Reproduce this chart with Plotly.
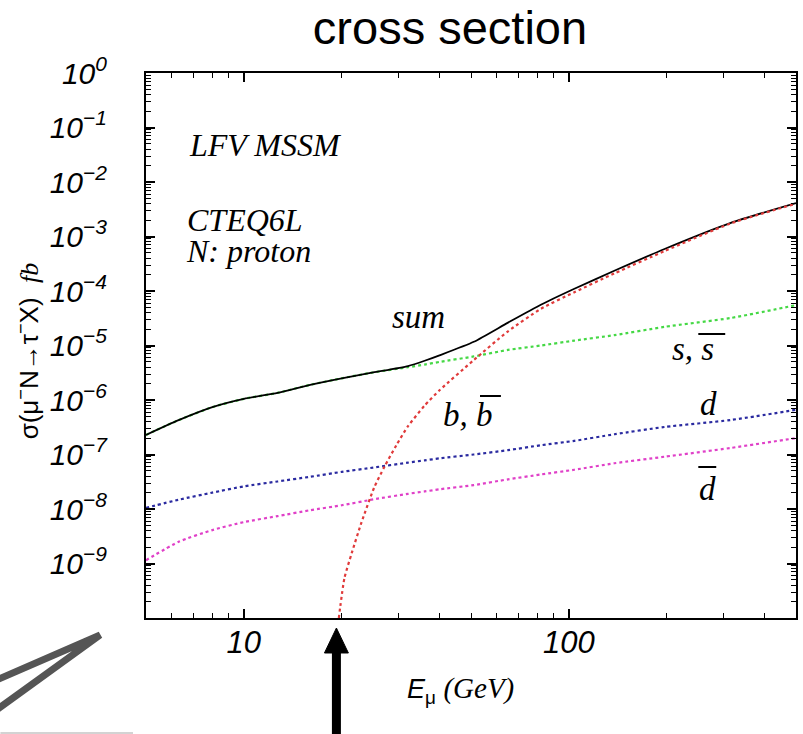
import numpy as np
import plotly.graph_objects as go

# Muon beam energy E_mu (GeV) at which the curves are sampled
energy = [5, 6.3, 8, 10, 12.7, 16, 20, 25, 32, 36, 40, 51, 65, 82, 104, 138, 197, 315, 500]

# sigma(mu- N -> tau- X) in fb, per parton channel
sigma_sum = [2.29e-7, 4.27e-7, 7.4e-7, 1.05e-6, 1.35e-6, 1.9e-6, 2.5e-6, 3.2e-6, 4.2e-6, 5.25e-6,
             6.6e-6, 1.17e-5, 2.63e-5, 5.6e-5, 1.1e-4, 2.35e-4, 5.9e-4, 1.78e-3, 4.1e-3]
sigma_s = [2.29e-7, 4.27e-7, 7.4e-7, 1.05e-6, 1.35e-6, 1.9e-6, 2.5e-6, 3.2e-6, 4.0e-6, 4.47e-6,
           5.0e-6, 6.3e-6, 8.3e-6, 1.0e-5, 1.23e-5, 1.55e-5, 2.2e-5, 3.2e-5, 5.5e-5]
sigma_d = [1.05e-8, 1.48e-8, 2.0e-8, 2.6e-8, 3.2e-8, 3.9e-8, 4.8e-8, 5.75e-8, 7.1e-8, 7.8e-8,
           8.5e-8, 1.0e-7, 1.2e-7, 1.48e-7, 1.78e-7, 2.35e-7, 3.2e-7, 4.3e-7, 6.6e-7]
sigma_dbar = [1.15e-9, 2.5e-9, 4.1e-9, 5.75e-9, 7.4e-9, 9.5e-9, 1.17e-8, 1.5e-8, 1.9e-8, 2.1e-8,
              2.3e-8, 2.75e-8, 3.5e-8, 4.3e-8, 5.25e-8, 6.9e-8, 9.1e-8, 1.32e-7, 2.0e-7]

# b-quark channel opens near 20 GeV
energy_b = [19.6, 20.4, 21.5, 23, 25.2, 27.1, 29.5, 32, 36, 40, 51, 65, 82, 104, 138, 197, 315, 500]
sigma_b = [1.0e-10, 5.4e-10, 1.58e-9, 5.6e-9, 2.5e-8, 6.0e-8, 1.5e-7, 3.3e-7, 7.9e-7, 1.51e-6,
           5.4e-6, 1.82e-5, 4.7e-5, 9.5e-5, 2.1e-4, 5.4e-4, 1.74e-3, 4.0e-3]

x_major = [10, 100]
x_labels = ["10", "100"]
y_exponents = list(range(0, -10, -1))

W, H = 803, 734
L, R, T, B = 146, 5, 73, 116


def px(x):
    return (x - L) / (W - L - R)


def py(y):
    return (H - B - y) / (H - T - B)


fig = go.Figure()

dotted = dict(dash="dot", width=2.2, shape="spline", smoothing=0.6)
fig.add_trace(go.Scatter(x=energy, y=sigma_s, mode="lines",
                         line=dict(color="#45d845", **dotted)))
fig.add_trace(go.Scatter(x=energy, y=sigma_d, mode="lines",
                         line=dict(color="#2a2aa0", **dotted)))
fig.add_trace(go.Scatter(x=energy, y=sigma_dbar, mode="lines",
                         line=dict(color="#e040c8", **dotted)))
fig.add_trace(go.Scatter(x=energy, y=sigma_sum, mode="lines",
                         line=dict(color="black", width=1.8, shape="spline", smoothing=0.6)))
fig.add_trace(go.Scatter(x=energy_b, y=sigma_b, mode="lines",
                         line=dict(color="#e03a3a", **dotted)))

x_minor = [v * 10 ** k for k in range(0, 3) for v in range(2, 10)
           if 5 <= v * 10 ** k <= 500 and v * 10 ** k not in x_major]
y_minor = [v * 10.0 ** k for k in range(-10, 0) for v in range(2, 10)]

axis_common = dict(showline=True, linecolor="black", linewidth=2, mirror="ticks",
                   ticks="inside", tickcolor="black", tickwidth=1.5, ticklen=9,
                   showgrid=False, zeroline=False)

fig.update_xaxes(type="log", range=[np.log10(5), np.log10(500)],
                 tickmode="array", tickvals=x_major, ticktext=x_labels,
                 tickfont=dict(family="Liberation Sans", size=31, color="black", style="italic"),
                 ticklabelstandoff=-4,
                 minor=dict(tickmode="array", tickvals=x_minor, ticks="inside",
                            ticklen=5, tickwidth=1.3, tickcolor="black"),
                 **axis_common)
fig.update_yaxes(type="log", range=[-10, 0],
                 tickmode="array", tickvals=[10.0 ** e for e in y_exponents],
                 ticktext=["10<sup>%s</sup>" % (str(e).replace("-", "\u2212")) for e in y_exponents],
                 tickfont=dict(family="Liberation Sans", size=30, color="black", style="italic"),
                 ticklabelstandoff=31,
                 minor=dict(tickmode="array", tickvals=y_minor, ticks="inside",
                            ticklen=5, tickwidth=1.2, tickcolor="black"),
                 **axis_common)

serif_top = dict(family="Liberation Serif", size=32, color="black", style="italic")
serif_lbl = dict(family="Liberation Serif", size=33, color="black", style="italic")
notes = [
    ("LFV MSSM", 187, 145, serif_top),
    ("sum", 391, 317, serif_lbl),
    ("s, s", 672, 349, serif_lbl),
    ("b, b", 442, 415, serif_lbl),
    ("d", 700, 404, serif_lbl),
    ("d", 699, 489, serif_lbl),
]
annotations = []
for text, x0, yc, fnt in notes:
    annotations.append(dict(text=text, xref="paper", yref="paper", x=px(x0), y=py(yc),
                            xanchor="left", yanchor="middle", showarrow=False, font=fnt))

# PDF set and target, two tightly spaced lines
annotations.append(dict(
    text="<span style='font-size:32px'>CTEQ6L</span><br>"
         "<span style='font-size:32px'>N: proton</span>",
    xref="paper", yref="paper", x=px(184), y=py(236), align="left",
    xanchor="left", yanchor="middle", showarrow=False,
    font=dict(family="Liberation Serif", size=24, color="black", style="italic")))

annotations.append(dict(
    text="\u03c3(\u03bc<sup>\u2212</sup>N\u2192\u03c4<sup>\u2212</sup>X)  "
         "<span style='font-family:Liberation Serif'><i>fb</i></span>",
    xref="paper", yref="paper", x=px(28), y=py(351), textangle=-90,
    xanchor="center", yanchor="middle", showarrow=False,
    font=dict(family="Liberation Sans", size=26, color="black")))
annotations.append(dict(
    text="<i>E</i><sub>\u03bc</sub> <span style='font-family:Liberation Serif;font-size:29px'>"
         "<i>(GeV)</i></span>",
    xref="paper", yref="paper", x=px(461), y=py(690),
    xanchor="center", yanchor="middle", showarrow=False,
    font=dict(family="Liberation Sans", size=27, color="black")))

shapes = []
# overbars for the antiquark labels
for x0, x1, yb in [(700, 727, 334), (481, 502, 396), (700, 718, 467)]:
    shapes.append(dict(type="line", xref="paper", yref="paper",
                       x0=px(x0), x1=px(x1), y0=py(yb), y1=py(yb),
                       line=dict(color="black", width=2)))
# threshold arrow under the axis
shapes.append(dict(type="line", xref="paper", yref="paper",
                   x0=px(337), x1=px(337), y0=py(650), y1=py(736),
                   line=dict(color="black", width=9)))
shapes.append(dict(type="path", xref="paper", yref="paper",
                   path="M %f,%f L %f,%f L %f,%f Z" % (px(325), py(653), px(349), py(653),
                                                       px(337), py(628)),
                   fillcolor="black", line=dict(color="black", width=1)))
# grey pointer at lower left
shapes.append(dict(type="path", xref="paper", yref="paper",
                   path="M %f,%f L %f,%f L %f,%f" % (px(-4), py(680), px(100), py(635),
                                                     px(-4), py(710)),
                   line=dict(color="#555555", width=7)))
shapes.append(dict(type="line", xref="paper", yref="paper",
                   x0=px(0), x1=px(133), y0=py(733), y1=py(733),
                   line=dict(color="#c4c4c4", width=1.5)))

fig.update_layout(
    width=W, height=H,
    margin=dict(l=L, r=R, t=T, b=B),
    paper_bgcolor="white", plot_bgcolor="white",
    showlegend=False,
    title=dict(text="cross section", xref="container", yref="container",
               x=450 / W, y=1 - 28 / H, xanchor="center", yanchor="middle",
               font=dict(family="Liberation Sans", size=47, color="black")),
    annotations=annotations,
    shapes=shapes,
)

fig.write_html("out.html")
